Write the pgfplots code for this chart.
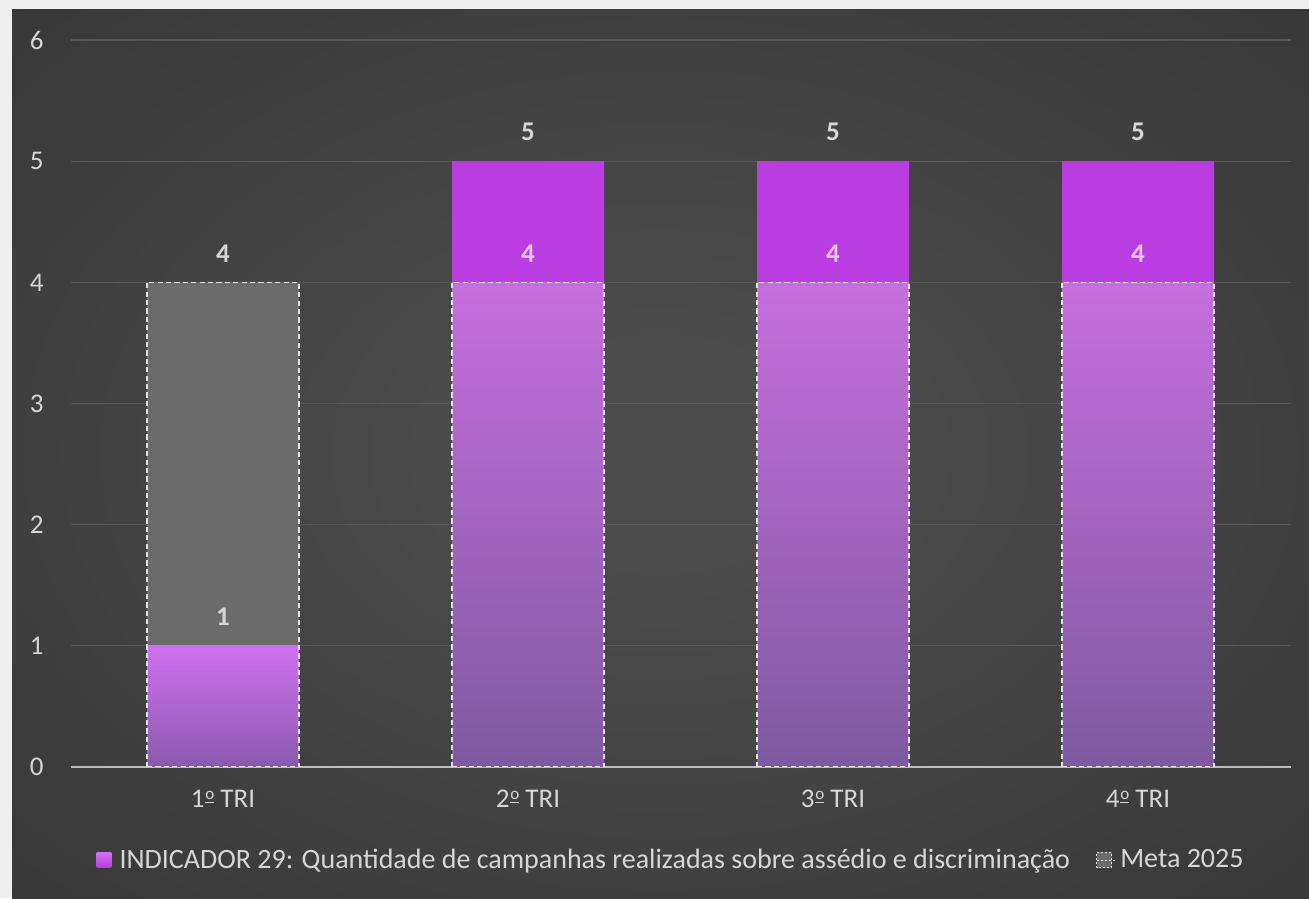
\documentclass[border=0pt]{standalone}
\usepackage{pgfplots}
\pgfplotsset{compat=1.18}
\usepackage{fontspec}
\setmainfont{Carlito}
\definecolor{margin}{HTML}{EFEFEF}
\definecolor{bgin}{HTML}{4C4C4C}
\definecolor{bgout}{HTML}{292929}
\definecolor{gridc}{HTML}{585858}
\definecolor{axisc}{HTML}{BDBDBD}
\definecolor{txt}{HTML}{D6D6D6}
\definecolor{indsolid}{HTML}{B93DE0}
\definecolor{ovtop}{HTML}{C66EDD}
\definecolor{ovbot}{HTML}{7E5AA0}
\definecolor{qtop}{HTML}{D070F0}
\definecolor{qbot}{HTML}{8A5AAE}
\definecolor{metagray}{HTML}{6B6B6B}
\definecolor{dashc}{HTML}{E2E2E2}
\definecolor{inlbl}{HTML}{EAC6F2}
\pgfdeclareradialshading{bgshade}{\pgfpoint{0bp}{0bp}}{color(0bp)=(bgin); color(6bp)=(bgin); color(58bp)=(bgout); color(75bp)=(bgout)}
\newcommand{\ord}{\kern0.4pt\raisebox{4.2pt}{\fontsize{8.5}{9}\selectfont\underline{o}}}
\begin{document}
\begin{tikzpicture}[x=1pt,y=1pt]
\fill[margin] (0,0) rectangle (654.5,449);
\shade[shading=bgshade] (6,0) rectangle (654.5,444);
\path[use as bounding box] (0,0) rectangle (654.5,449);
\begin{axis}[
  at={(35.25pt,65.5pt)}, anchor=south west,
  scale only axis, width=610pt, height=363.5pt,
  xmin=-0.5, xmax=3.5, ymin=0, ymax=6,
  enlargelimits=false,
  axis x line*=bottom, axis y line*=left,
  y axis line style={draw=none},
  x axis line style={draw=axisc, line width=1pt},
  major tick length=0pt,
  tick style={draw=none},
  ytick={0,1,2,3,4,5,6},
  xtick={0,1,2,3},
  xticklabels={1\ord{} TRI,2\ord{} TRI,3\ord{} TRI,4\ord{} TRI},
  ymajorgrids,
  grid style={draw=gridc, line width=0.6pt},
  /pgf/number format/assume math mode=true,
  tick label style={font=\fontsize{13.5}{15}\selectfont, text=txt},
  yticklabel style={xshift=-10pt},
  xticklabel style={yshift=-8pt},
  bar width=76pt,
  legend image code/.code={\fill[#1] (0pt,-3.8pt) rectangle (7.6pt,3.8pt); \path (0pt,0pt) -- (9.6pt,0pt);},
  legend style={at={(0.493,0)}, anchor=center, yshift=-46.5pt, draw=none, fill=none,
    text=txt, font=\fontsize{14}{16}\selectfont, legend columns=2,
    /tikz/every even column/.append style={column sep=11pt},
    legend cell align=left},
  dashbar/.style={draw=dashc, line width=0.8pt, dash pattern=on 2.6pt off 1.6pt},
  lbl/.style={nodes near coords, nodes near coords style={anchor=center, yshift=14.5pt,
    font=\fontsize{13.5}{15}\selectfont\bfseries, text=#1}},
]
\addlegendimage{top color=qtop, bottom color=indsolid, draw=none}
\addlegendentry{INDICADOR 29: Quantidade de campanhas realizadas sobre assédio e discriminação}
\addlegendimage{fill=metagray, draw=dashc, line width=0.5pt, dash pattern=on 1pt off 1pt}
\addlegendentry{Meta 2025}
% Meta Q1 (grey fill)
\addplot[ybar, bar shift=0pt, fill=metagray, draw=none, lbl=txt, forget plot] coordinates {(0,4)};
% Indicator Q2-Q4 (solid)
\addplot[ybar, bar shift=0pt, fill=indsolid, draw=none, lbl=txt, forget plot] coordinates {(1,5) (2,5) (3,5)};
% Meta Q2-Q4 overlay
\addplot[ybar, bar shift=0pt, top color=ovtop, bottom color=ovbot, dashbar, lbl=inlbl, forget plot] coordinates {(1,4)};
\addplot[ybar, bar shift=0pt, top color=ovtop, bottom color=ovbot, dashbar, lbl=inlbl, forget plot] coordinates {(2,4)};
\addplot[ybar, bar shift=0pt, top color=ovtop, bottom color=ovbot, dashbar, lbl=inlbl, forget plot] coordinates {(3,4)};
% Indicator Q1
\addplot[ybar, bar shift=0pt, top color=qtop, bottom color=qbot, draw=none, lbl=txt, forget plot] coordinates {(0,1)};
% Meta Q1 border
\addplot[ybar, bar shift=0pt, fill=none, dashbar, forget plot] coordinates {(0,4)};
\end{axis}
\end{tikzpicture}
\end{document}
